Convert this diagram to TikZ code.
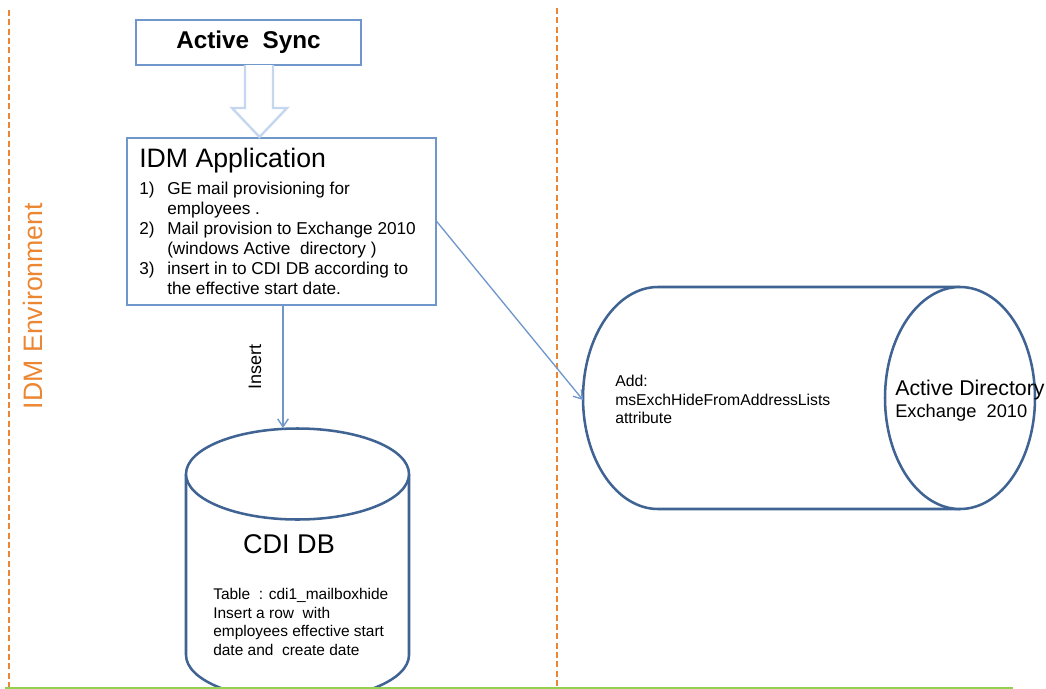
\documentclass[tikz,border=0pt]{standalone}
\usepackage{fontspec}
\setmainfont{Liberation Sans}
\usetikzlibrary{positioning,arrows.meta}

\definecolor{boxblue}{HTML}{7097CC}
\definecolor{drumblue}{HTML}{3F6393}
\definecolor{hollowblue}{HTML}{C4D7EF}
\definecolor{envorange}{HTML}{EB8632}
\definecolor{floorgreen}{HTML}{92D050}

\begin{document}
\begin{tikzpicture}[x=0.75pt,y=-0.75pt,
    box/.style={draw=boxblue, line width=1.1pt, inner sep=0pt},
    conn/.style={draw=boxblue, line width=1pt, -{Straight Barb[length=6pt,width=8pt]}},
    drum/.style={draw=drumblue, line width=1.9pt, fill=white},
    envline/.style={draw=envorange, line width=1.1pt, dash pattern=on 4.5pt off 2.5pt},
    txt/.style={inner sep=0pt, align=left},
  ]
    \useasboundingbox (0,0) rectangle (1046,689);

    % Environment borders
    \draw[envline] (9,10) -- (9,689);
    \draw[envline] (557,8) -- (557,689);
    \node[txt, rotate=90, text=envorange, font=\fontsize{20}{24}\selectfont] (env) at (33,306)
        {IDM Environment};

    % Active Sync box
    \node[box, minimum width=168.75pt, minimum height=33.75pt,
          font=\fontsize{18.2}{22}\selectfont\bfseries] (sync) at (248.5,42.5)
        {Active\ \ Sync};

    % IDM Application box
    \node[box, minimum width=231.75pt, minimum height=125.25pt] (idm) at (281.5,221.5) {};
    \node[txt, anchor=base west, font=\fontsize{20}{24}\selectfont] (idmtitle) at (139,167)
        {IDM Application};
    \node[txt, anchor=north west, font=\fontsize{12.9}{15}\selectfont] (idmlist) at (139,182)
        {\makebox[21pt][l]{1)}GE mail provisioning for\\
         \hspace*{21pt}employees .\\
         \makebox[21pt][l]{2)}Mail provision to Exchange 2010\\
         \hspace*{21pt}(windows Active\ \ directory )\\
         \makebox[21pt][l]{3)}insert in to CDI DB according to\\
         \hspace*{21pt}the effective start date.};

    % Hollow arrow from Active Sync down to IDM
    \draw[hollowblue, line width=1.8pt, fill=white]
        (245,65) -- (245,108) -- (232,108) -- (259.5,137) -- (287,108) -- (273,108) -- (273,65);

    % CDI DB drum
    \draw[drum] (186,474) -- (186,655)
        arc[start angle=180, end angle=0, x radius=111.5, y radius=45.5] -- (409,474);
    \draw[drum] (297.5,474) ellipse [x radius=111.5, y radius=45.5];
    \coordinate (cditop) at (283,428);
    \node[txt, anchor=base, font=\fontsize{20.3}{24}\selectfont] (cdi) at (289,553) {CDI DB};
    \node[txt, anchor=north west, font=\fontsize{11.6}{13.9}\selectfont] (cditext) at (213,588)
        {Table\ \ : cdi1\_mailboxhide\\
         Insert a row\ \ with\\
         employees effective start\\
         date and\ \ create date};

    % Active Directory drum
    \draw[drum] (960,287) -- (658,287)
        arc[start angle=270, end angle=90, x radius=75, y radius=111] -- (960,509);
    \draw[drum] (960,398) ellipse [x radius=75, y radius=111];
    \coordinate (adin) at (583,400);
    \node[txt, anchor=north west, font=\fontsize{11.8}{13.9}\selectfont] (adtext) at (615,375)
        {Add:\\
         msExchHideFromAddressLists\\
         attribute};
    \node[txt, anchor=base west, font=\fontsize{16}{19}\selectfont] (ad) at (895,395)
        {Active Directory};
    \node[txt, anchor=base west, font=\fontsize{13.7}{16}\selectfont] (adexch) at (895,417)
        {Exchange\ \ 2010};

    % Connectors
    \draw[conn] (idm.south -| cditop) -- (cditop)
        node[midway, rotate=90, yshift=21pt, inner sep=0pt, font=\fontsize{13.5}{16}\selectfont] (ins)
        {Insert};
    \draw[conn] (idm.east) -- (adin);

    % Floor line
    \draw[floorgreen, line width=1.5pt] (5,688) -- (1013,688);

  \end{tikzpicture}
\end{document}
